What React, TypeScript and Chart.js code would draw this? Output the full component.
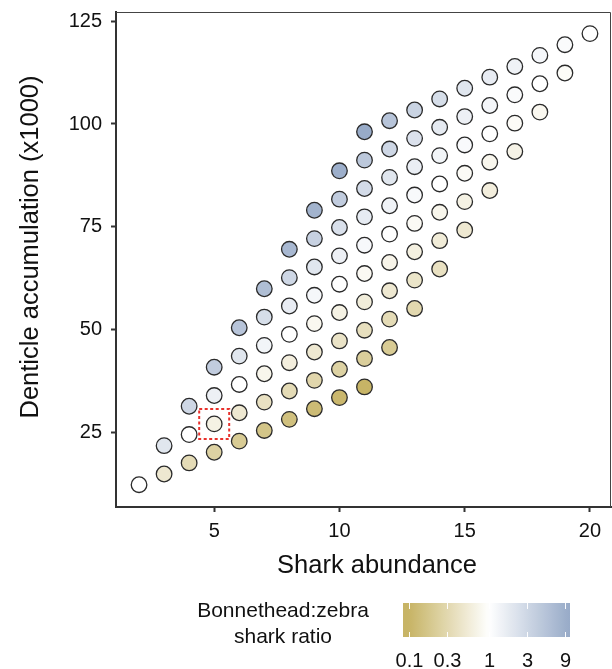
import React, { useEffect, useRef } from "react";
import { Chart, registerables } from "chart.js";

Chart.register(...registerables);

// ---- data ----
const bonnetheadCounts = [1, 2, 3, 4, 5, 6, 7, 8, 9, 10];
const zebraCounts = [1, 2, 3, 4, 5, 6, 7, 8, 9, 10];
// denticle accumulation (x1000); one array per bonnethead count, columns = zebra count 1..10
const denticlesB1 = [12.2, 14.8, 17.5, 20.1, 22.8, 25.4, 28.1, 30.7, 33.4, 36.0];
const denticlesB2 = [21.7, 24.4, 27.0, 29.7, 32.3, 35.0, 37.6, 40.3, 42.9, 45.6];
const denticlesB3 = [31.3, 33.9, 36.6, 39.2, 41.9, 44.5, 47.2, 49.8, 52.5, 55.1];
const denticlesB4 = [40.8, 43.5, 46.1, 48.8, 51.4, 54.1, 56.7, 59.4, 62.0, 64.7];
const denticlesB5 = [50.4, 53.0, 55.7, 58.3, 61.0, 63.6, 66.3, 68.9, 71.6, 74.2];
const denticlesB6 = [59.9, 62.6, 65.2, 67.9, 70.5, 73.2, 75.8, 78.5, 81.1, 83.8];
const denticlesB7 = [69.5, 72.1, 74.8, 77.4, 80.1, 82.7, 85.4, 88.0, 90.7, 93.3];
const denticlesB8 = [79.0, 81.7, 84.3, 87.0, 89.6, 92.3, 94.9, 97.6, 100.2, 102.9];
const denticlesB9 = [88.6, 91.2, 93.9, 96.5, 99.2, 101.8, 104.5, 107.1, 109.8, 112.4];
const denticlesB10 = [98.1, 100.8, 103.4, 106.1, 108.7, 111.4, 114.0, 116.7, 119.3, 122.0];
const denticleRows = [
  denticlesB1, denticlesB2, denticlesB3, denticlesB4, denticlesB5,
  denticlesB6, denticlesB7, denticlesB8, denticlesB9, denticlesB10,
];

const xTicks = [5, 10, 15, 20];
const yTicks = [25, 50, 75, 100, 125];
const ratioTicks = [0.1, 0.3, 1, 3, 9];
const ratioTickLabels = ["0.1", "0.3", "1", "3", "9"];
const highlighted = { bonnethead: 2, zebra: 3 };

const xTitle = "Shark abundance";
const yTitle = "Denticle accumulation (x1000)";
const legendTitle = ["Bonnethead:zebra", "shark ratio"];

// ---- styling ----
const FONT = "'Liberation Sans', Arial, Helvetica, sans-serif";
const GOLD = [199, 180, 102];
const WHITE = [255, 255, 255];
const BLUE = [152, 171, 200];

function ratioColor(r: number): string {
  let t = Math.log10(r);
  t = Math.max(-1, Math.min(1, t));
  const end = t < 0 ? GOLD : BLUE;
  const a = Math.abs(t);
  const c = WHITE.map((w, i) => Math.round(w + (end[i] - w) * a));
  return `rgb(${c[0]},${c[1]},${c[2]})`;
}

type Pt = { x: number; y: number; ratio: number; hl: boolean };

function buildPoints(): Pt[] {
  const pts: Pt[] = [];
  bonnetheadCounts.forEach((b, i) => {
    zebraCounts.forEach((z, j) => {
      pts.push({
        x: b + z,
        y: denticleRows[i][j],
        ratio: b / z,
        hl: b === highlighted.bonnethead && z === highlighted.zebra,
      });
    });
  });
  return pts;
}

const overlayPlugin = {
  id: "overlay",
  afterDraw(chart: any) {
    const { ctx, chartArea } = chart;
    const { left, right, top, bottom } = chartArea;
    ctx.save();

    // top & right frame
    ctx.strokeStyle = "#444";
    ctx.lineWidth = 1;
    ctx.beginPath();
    ctx.moveTo(left, top + 0.5);
    ctx.lineTo(right - 0.5, top + 0.5);
    ctx.lineTo(right - 0.5, bottom);
    ctx.stroke();

    // highlighted point box
    const meta = chart.getDatasetMeta(0);
    const data: Pt[] = chart.data.datasets[0].data;
    data.forEach((p, i) => {
      if (!p.hl) return;
      const el = meta.data[i];
      ctx.strokeStyle = "#E8312C";
      ctx.lineWidth = 2;
      ctx.setLineDash([3, 2.5]);
      ctx.strokeRect(el.x - 15, el.y - 15, 30, 30);
      ctx.setLineDash([]);
    });

    // axis titles
    ctx.fillStyle = "#111";
    ctx.font = `25.5px ${FONT}`;
    ctx.textAlign = "center";
    ctx.textBaseline = "middle";
    ctx.fillText(xTitle, 377, 566);
    ctx.save();
    ctx.translate(31, 247);
    ctx.rotate(-Math.PI / 2);
    ctx.fillText(yTitle, 0, 0);
    ctx.restore();

    // legend title
    ctx.font = `21px ${FONT}`;
    ctx.fillText(legendTitle[0], 283, 611);
    ctx.fillText(legendTitle[1], 283, 637);

    // colour bar
    const barL = 403, barR = 570, barT = 603, barB = 637;
    const center = 489, perDecade = 80;
    const grad = ctx.createLinearGradient(barL, 0, barR, 0);
    const N = 40;
    for (let k = 0; k <= N; k++) {
      const px = barL + ((barR - barL) * k) / N;
      const r = Math.pow(10, (px - center) / perDecade);
      grad.addColorStop(k / N, ratioColor(r));
    }
    ctx.fillStyle = grad;
    ctx.fillRect(barL, barT, barR - barL, barB - barT);

    ctx.strokeStyle = "rgba(255,255,255,0.95)";
    ctx.lineWidth = 1;
    ctx.font = `20px ${FONT}`;
    ctx.fillStyle = "#111";
    ratioTicks.forEach((v, i) => {
      const px = Math.round(center + Math.log10(v) * perDecade) + 0.5;
      ctx.beginPath();
      ctx.moveTo(px, barT);
      ctx.lineTo(px, barT + 6);
      ctx.moveTo(px, barB - 5);
      ctx.lineTo(px, barB);
      ctx.stroke();
      ctx.fillText(ratioTickLabels[i], px, 661);
    });

    ctx.restore();
  },
};

export default function App() {
  const ref = useRef<HTMLCanvasElement | null>(null);

  useEffect(() => {
    if (!ref.current) return;
    const points = buildPoints();
    const chart = new Chart(ref.current, {
      type: "scatter",
      data: {
        datasets: [
          {
            data: points as any,
            pointRadius: 7.8,
            pointHoverRadius: 7.8,
            pointBorderWidth: 1.3,
            pointBorderColor: "#2a2a2a",
            pointBackgroundColor: points.map((p) => ratioColor(p.ratio)),
          },
        ],
      },
      options: {
        animation: false,
        responsive: false,
        events: [],
        layout: { autoPadding: false, padding: { top: 12, right: 1, left: 0, bottom: 0 } },
        plugins: { legend: { display: false }, tooltip: { enabled: false } },
        scales: {
          x: {
            type: "linear",
            min: 1.08,
            max: 20.84,
            afterBuildTicks: (s: any) => {
              s.ticks = xTicks.map((v) => ({ value: v }));
            },
            afterFit: (s: any) => {
              s.height = 162;
              s.paddingLeft = 0;
              s.paddingRight = 0;
            },
            grid: {
              display: true,
              drawOnChartArea: false,
              drawTicks: true,
              tickLength: 5,
              tickColor: "#333",
              tickWidth: 2,
            },
            border: { display: true, color: "#333", width: 2 },
            ticks: {
              font: { family: FONT, size: 20 },
              color: "#111",
              padding: 7,
              maxRotation: 0,
              autoSkip: false,
            },
          },
          y: {
            type: "linear",
            min: 6.77,
            max: 127.26,
            afterBuildTicks: (s: any) => {
              s.ticks = yTicks.map((v) => ({ value: v }));
            },
            afterFit: (s: any) => {
              s.width = 116;
              s.paddingTop = 0;
              s.paddingBottom = 0;
            },
            grid: {
              display: true,
              drawOnChartArea: false,
              drawTicks: true,
              tickLength: 5,
              tickColor: "#333",
              tickWidth: 2,
            },
            border: { display: true, color: "#333", width: 2 },
            ticks: {
              font: { family: FONT, size: 20 },
              color: "#111",
              padding: 9,
              autoSkip: false,
            },
          },
        },
      },
      plugins: [overlayPlugin],
    });
    return () => chart.destroy();
  }, []);

  return (
    <div style={{ position: "absolute", left: 0, top: 0, width: 612, height: 669, background: "#fff" }}>
      <canvas ref={ref} width={612} height={669} style={{ display: "block" }} />
    </div>
  );
}
